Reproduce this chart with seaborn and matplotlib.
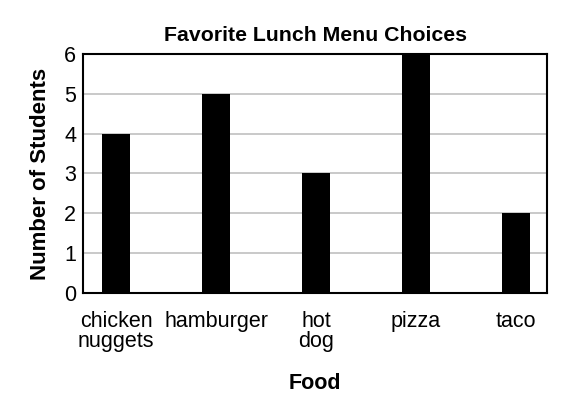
import matplotlib
matplotlib.use('Agg')
import matplotlib.pyplot as plt
import pandas as pd
import seaborn as sns

# data
foods = ['chicken\nnuggets', 'hamburger', 'hot\ndog', 'pizza', 'taco']
students = [4, 5, 3, 6, 2]

df = pd.DataFrame({'Food': foods, 'Students': students})

sns.set_style('white')
plt.rcParams['font.family'] = ['Liberation Sans', 'DejaVu Sans']
plt.rcParams['text.color'] = 'black'
plt.rcParams['axes.labelcolor'] = 'black'
plt.rcParams['xtick.color'] = 'black'
plt.rcParams['ytick.color'] = 'black'

fig = plt.figure(figsize=(5.73, 4.15), dpi=100)
ax = fig.add_axes([0.1449, 0.294, 0.8097, 0.576])

sns.barplot(x='Food', y='Students', data=df, color='black', saturation=1,
            width=0.28, edgecolor='black', linewidth=0, ax=ax, zorder=3)

ax.set_xlim(-0.33, 4.31)
ax.set_ylim(0, 6)
ax.set_yticks(range(0, 7))
ax.yaxis.grid(True, color='#c0c0c0', linewidth=1.2, zorder=0)
ax.set_axisbelow(True)

for sp in ax.spines.values():
    sp.set_visible(True)
    sp.set_color('black')
    sp.set_linewidth(1.5)

ax.tick_params(axis='both', length=0, labelsize=15.5)
ax.tick_params(axis='x', pad=13)
ax.tick_params(axis='y', pad=5)
for lbl in ax.get_xticklabels():
    lbl.set_linespacing(0.92)

ax.set_title('Favorite Lunch Menu Choices', fontsize=15.3, fontweight='bold', pad=9)
ax.set_xlabel('Food', fontsize=15.5, fontweight='bold', labelpad=15)
ax.set_ylabel('Number of Students', fontsize=16, fontweight='bold', labelpad=9)

fig.savefig('out.png', dpi=100)
